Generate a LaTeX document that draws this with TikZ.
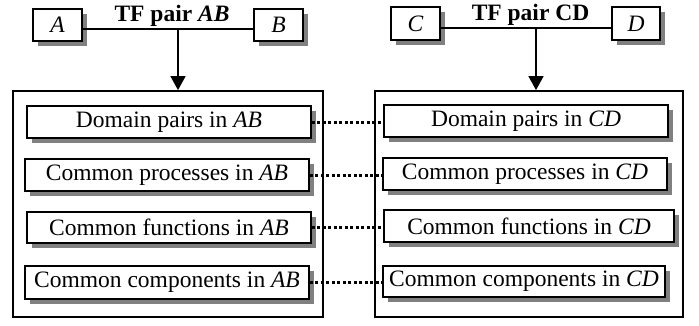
\documentclass[tikz,border=0pt]{standalone}
\usepackage{fontspec}
\setmainfont{Liberation Serif}
\usetikzlibrary{shadows,arrows.meta}
\begin{document}
\begin{tikzpicture}[x=1pt,y=-1pt,
  font=\fontsize{23.5}{28}\selectfont,
  box/.style={draw,line width=1.8pt,fill=white,inner sep=0pt,
    drop shadow={shadow xshift=5pt,shadow yshift=-5pt,fill=black!50,opacity=1}},
  inbox/.style={box,minimum height=32pt},
  small/.style={box,minimum width=49pt,minimum height=32pt},
  outer/.style={draw,line width=1.8pt,inner sep=0pt},
  conn/.style={line width=1.4pt},
  arr/.style={conn,-{Triangle[length=14pt,width=15pt]}},
  dotline/.style={line width=3pt,dash pattern=on 3pt off 2.5pt},
  lbl/.style={font=\fontsize{23.5}{28}\selectfont\bfseries,anchor=base,inner sep=0pt}]
\useasboundingbox (0,0) rectangle (699,325);
% outer boxes
\node[outer,minimum width=310pt,minimum height=226pt] (OL) at (168,204) {};
\node[outer,minimum width=308pt,minimum height=226pt] (OR) at (529,204) {};
% small boxes
\node[small] (A) at (57.5,25) {\itshape A};
\node[small] (B) at (278.5,25) {\itshape B};
\node[small,minimum height=33pt] (C) at (415.5,23.5) {\itshape C};
\node[small,minimum height=33pt,minimum width=48pt] (D) at (636,23.5) {\itshape D};
\coordinate (ab) at (178,29);
\coordinate (cd) at (536,28);
\draw[conn] (A.east |- ab) -- (B.west |- ab);
\draw[conn] (C.east |- cd) -- (D.west |- cd);
\draw[arr] (ab) -- (ab |- OL.north);
\draw[arr] (cd) -- (cd |- OR.north);
\node[lbl] (tab) at (172,21) {TF pair \textit{AB}};
\node[lbl] (tcd) at (530.5,20) {TF pair CD};
% inner boxes left
\node[inbox,minimum width=284pt] (L1) at (169,122) {Domain pairs in \textit{AB}};
\node[inbox,minimum width=284pt] (L2) at (167,175) {Common processes in \textit{AB}};
\node[inbox,minimum width=284pt,minimum height=31pt] (L3) at (169,227.5) {Common functions in \textit{AB}};
\node[inbox,minimum width=284pt,minimum height=33pt] (L4) at (167,282.5) {Common components in \textit{AB}};
% inner boxes right
\node[inbox,minimum width=284pt] (R1) at (526,121) {Domain pairs in \textit{CD}};
\node[inbox,minimum width=284pt] (R2) at (525,174) {Common processes in \textit{CD}};
\node[inbox,minimum width=290pt] (R3) at (529,226) {Common functions in \textit{CD}};
\node[inbox,minimum width=282pt,minimum height=31pt] (R4) at (524,281.5) {Common components in \textit{CD}};
% dotted links
\draw[dotline] (L1.east) -- (L1.east -| R1.west);
\draw[dotline] (L2.east) -- (L2.east -| R2.west);
\draw[dotline] (L3.east) -- (L3.east -| R3.west);
\draw[dotline] (L4.east) -- (L4.east -| R4.west);
\end{tikzpicture}
\end{document}
